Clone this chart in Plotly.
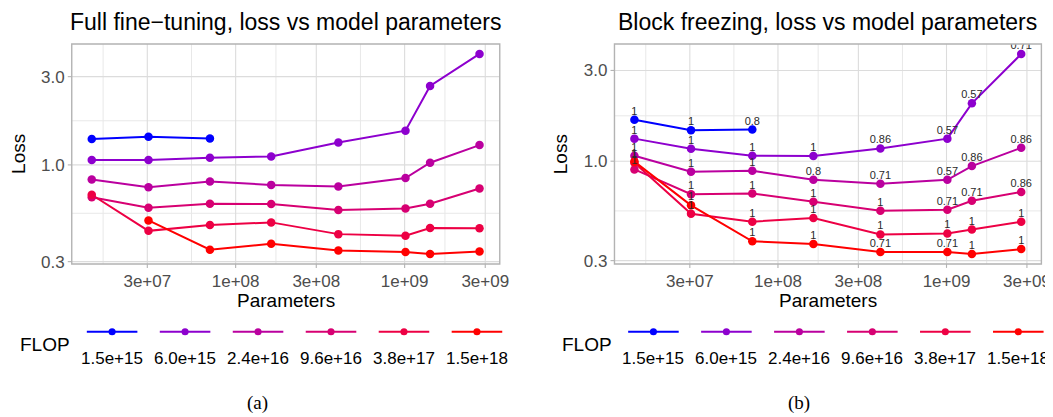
import math
import plotly.graph_objects as go

# ---------------- data ----------------
params = [14.07e6, 30.49e6, 70.43e6, 162.3e6, 405.3e6, 1011.8e6, 1414.6e6, 2775.2e6]
flop_labels = ["1.5e+15", "6.0e+15", "2.4e+16", "9.6e+16", "3.8e+17", "1.5e+18"]

# Full fine-tuning loss per FLOP budget
ft_1_5e15 = [1.38, 1.42, 1.39, None, None, None, None, None]
ft_6_0e15 = [1.063, 1.063, 1.093, 1.11, 1.323, 1.532, 2.67, 3.98]
ft_2_4e16 = [0.833, 0.758, 0.813, 0.78, 0.765, 0.849, 1.028, 1.28]
ft_9_6e16 = [0.668, 0.587, 0.617, 0.615, 0.571, 0.582, 0.617, 0.746]
ft_3_8e17 = [0.69, 0.44, 0.473, 0.489, 0.4225, 0.414, 0.456, 0.455]
ft_1_5e18 = [None, 0.501, 0.348, 0.375, 0.345, 0.338, 0.33, 0.34]

# Block freezing loss per FLOP budget
bf_1_5e15 = [1.652, 1.455, 1.467, None, None, None, None, None]
bf_6_0e15 = [1.314, 1.161, 1.069, 1.065, 1.167, 1.314, 2.014, 3.66]
bf_2_4e16 = [1.069, 0.881, 0.891, 0.798, 0.761, 0.798, 0.942, 1.175]
bf_9_6e16 = [0.905, 0.67, 0.676, 0.612, 0.548, 0.556, 0.619, 0.689]
bf_3_8e17 = [0.982, 0.529, 0.481, 0.502, 0.412, 0.417, 0.437, 0.481]
bf_1_5e18 = [0.995, 0.586, 0.379, 0.367, 0.333, 0.333, 0.325, 0.345]

# Block freezing point labels
bf_lab_1_5e15 = ["1", "1", "0.8", None, None, None, None, None]
bf_lab_6_0e15 = ["1", "1", "1", "1", "0.86", "0.57", "0.57", "0.71"]
bf_lab_2_4e16 = ["1", "1", "1", "0.8", "0.71", "0.57", "0.86", "0.86"]
bf_lab_9_6e16 = ["1", "1", "1", "1", "1", "0.71", "0.71", "0.86"]
bf_lab_3_8e17 = ["1", "1", "1", "1", "1", "1", "1", "1"]
bf_lab_1_5e18 = ["1", "1", "1", "1", "0.71", "0.71", "1", "1"]

x_tickvals = [3e7, 1e8, 3e8, 1e9, 3e9]
x_ticktext = ["3e+07", "1e+08", "3e+08", "1e+09", "3e+09"]
y_tickvals = [0.3, 1.0, 3.0]
y_ticktext = ["0.3", "1.0", "3.0"]
x_minor = [1.643e7, 5.477e7, 1.732e8, 5.477e8, 1.732e9]
y_minor = [0.5477, 1.732]

ft_series = [ft_1_5e15, ft_6_0e15, ft_2_4e16, ft_9_6e16, ft_3_8e17, ft_1_5e18]
bf_series = [bf_1_5e15, bf_6_0e15, bf_2_4e16, bf_9_6e16, bf_3_8e17, bf_1_5e18]
bf_labels = [bf_lab_1_5e15, bf_lab_6_0e15, bf_lab_2_4e16, bf_lab_9_6e16, bf_lab_3_8e17, bf_lab_1_5e18]


# ---------------- colours: Lab gradient blue -> red ----------------
def _lin(c):
    c = c / 255.0
    return c / 12.92 if c <= 0.04045 else ((c + 0.055) / 1.055) ** 2.4


def rgb_to_lab(r, g, b):
    R, G, B = _lin(r), _lin(g), _lin(b)
    X = 0.4124 * R + 0.3576 * G + 0.1805 * B
    Y = 0.2126 * R + 0.7152 * G + 0.0722 * B
    Z = 0.0193 * R + 0.1192 * G + 0.9505 * B
    X, Z = X / 0.95047, Z / 1.08883

    def f(t):
        return t ** (1 / 3) if t > 0.008856 else 7.787 * t + 16 / 116

    fx, fy, fz = f(X), f(Y), f(Z)
    return 116 * fy - 16, 500 * (fx - fy), 200 * (fy - fz)


def lab_to_hex(L, a, b):
    fy = (L + 16) / 116
    fx = fy + a / 500
    fz = fy - b / 200

    def finv(t):
        return t ** 3 if t ** 3 > 0.008856 else (t - 16 / 116) / 7.787

    X, Y, Z = 0.95047 * finv(fx), finv(fy), 1.08883 * finv(fz)
    R = 3.2406 * X - 1.5372 * Y - 0.4986 * Z
    G = -0.9689 * X + 1.8758 * Y + 0.0415 * Z
    B = 0.0557 * X - 0.2040 * Y + 1.0570 * Z

    def g(c):
        c = max(0.0, min(1.0, c))
        c = 12.92 * c if c <= 0.0031308 else 1.055 * c ** (1 / 2.4) - 0.055
        return int(round(c * 255))

    return "#%02X%02X%02X" % (g(R), g(G), g(B))


lab_lo = rgb_to_lab(0, 0, 255)
lab_hi = rgb_to_lab(255, 0, 0)
n = len(flop_labels)
colors = []
for i in range(n):
    t = i / (n - 1)
    colors.append(lab_to_hex(*[lo + (hi - lo) * t for lo, hi in zip(lab_lo, lab_hi)]))

# ---------------- figure ----------------
W, H = 1053, 417


def px(x):
    return x / W


def py(y):
    return 1 - y / H


XR = [7.03, 9.563]
YR1 = [-0.5356, 0.6536]
YR2 = [-0.5406, 0.6162]
GRID = "#DCDCDC"
MINOR = "#E8E8E8"
BORDER = "#B3B3B3"
sans = "Liberation Sans, Arial"
tickfont = dict(family=sans, size=17, color="#4D4D4D")

dom_x1 = [px(64.3), px(496)]
dom_x2 = [px(611.7), px(1042.3)]
dom_y = [py(261), py(36.7)]
PANEL_H = 261 - 36.7
PANEL_W = 496 - 64.3
TICK = 4.0

ax_x = dict(type="log", tickvals=x_tickvals, ticktext=x_ticktext, showgrid=False, showline=False,
            ticks="", ticklabelstandoff=5, tickfont=tickfont, zeroline=False, range=XR)
ax_y = dict(type="log", tickvals=y_tickvals, ticktext=y_ticktext, showgrid=False, showline=False,
            ticks="", ticklabelstandoff=6, tickfont=tickfont, zeroline=False)

fig = go.Figure()
fig.update_layout(
    width=W, height=H, margin=dict(l=0, r=0, t=0, b=0),
    paper_bgcolor="white", plot_bgcolor="white", showlegend=False,
    xaxis=dict(ax_x, domain=dom_x1, anchor="y"),
    yaxis=dict(ax_y, domain=dom_y, anchor="x", range=YR1),
    xaxis2=dict(ax_x, domain=dom_x2, anchor="y2"),
    yaxis2=dict(ax_y, domain=dom_y, anchor="x2", range=YR2),
    font=dict(family=sans, color="black"),
)

for xa, ya, series in (("x", "y", ft_series), ("x2", "y2", bf_series)):
    for vals, col in zip(series, colors):
        fig.add_trace(go.Scatter(x=params, y=vals, mode="lines", xaxis=xa, yaxis=ya,
                                 line=dict(color=col, width=2), showlegend=False, hoverinfo="skip"))
    for vals, col in zip(series, colors):
        fig.add_trace(go.Scatter(x=params, y=vals, mode="markers", xaxis=xa, yaxis=ya,
                                 marker=dict(color=col, size=8.5, line=dict(width=0)),
                                 showlegend=False))

for vals, labs in zip(bf_series, bf_labels):
    fig.add_trace(go.Scatter(x=params, y=vals, text=labs, mode="markers+text", xaxis="x2", yaxis="y2",
                             marker=dict(color="rgba(0,0,0,0)", size=2),
                             textposition="top center",
                             textfont=dict(family=sans, size=11, color="#2A2A2A"),
                             showlegend=False, hoverinfo="skip"))

# panel decorations: grid, border, ticks (drawn as shapes in axis coordinates)
shapes = []
for xr, yr in (("x", "y"), ("x2", "y2")):
    xd, yd = xr + " domain", yr + " domain"
    for v in x_minor:
        shapes.append(dict(type="line", xref=xr, yref=yd, x0=v, x1=v, y0=0, y1=1, layer="below",
                           line=dict(color=MINOR, width=1)))
    for v in y_minor:
        shapes.append(dict(type="line", xref=xd, yref=yr, x0=0, x1=1, y0=v, y1=v, layer="below",
                           line=dict(color=MINOR, width=1)))
    for v in x_tickvals:
        shapes.append(dict(type="line", xref=xr, yref=yd, x0=v, x1=v, y0=0, y1=1, layer="below",
                           line=dict(color=GRID, width=1.1)))
        shapes.append(dict(type="line", xref=xr, yref=yd, x0=v, x1=v, y0=0, y1=-TICK / PANEL_H,
                           line=dict(color=BORDER, width=1.1)))
    for v in y_tickvals:
        shapes.append(dict(type="line", xref=xd, yref=yr, x0=0, x1=1, y0=v, y1=v, layer="below",
                           line=dict(color=GRID, width=1.1)))
        shapes.append(dict(type="line", xref=xd, yref=yr, x0=0, x1=-TICK / PANEL_W, y0=v, y1=v,
                           line=dict(color=BORDER, width=1.1)))
    shapes.append(dict(type="rect", xref=xd, yref=yd, x0=0, x1=1, y0=0, y1=1,
                       line=dict(color=BORDER, width=1.4), fillcolor="rgba(0,0,0,0)"))

ann = []
ann.append(dict(text="Full fine\u2212tuning, loss vs model parameters", x=px(280.2), y=py(14.5),
                font=dict(family=sans, size=23, color="black")))
ann.append(dict(text="Block freezing, loss vs model parameters", x=px(827), y=py(14.5),
                font=dict(family=sans, size=23, color="black")))
for cx in (280.2, 827):
    ann.append(dict(text="Parameters", x=px(cx), y=py(298.7), font=dict(family=sans, size=19, color="black")))
for lx in (11, 558):
    ann.append(dict(text="Loss", x=px(lx), y=py(148.85), textangle=-90,
                    font=dict(family=sans, size=19, color="black")))

for flop_x, key_x0 in ((37, 105), (584, 651)):
    ann.append(dict(text="FLOP", x=px(flop_x), y=py(343), font=dict(family=sans, size=19, color="black")))
    for i, (lab, col) in enumerate(zip(flop_labels, colors)):
        cx = key_x0 + 73.6 * i
        shapes.append(dict(type="line", xref="paper", yref="paper", x0=px(cx - 25.5), x1=px(cx + 25.5),
                           y0=py(330), y1=py(330), line=dict(color=col, width=2)))
        shapes.append(dict(type="circle", xref="paper", yref="paper", x0=px(cx - 3.6), x1=px(cx + 3.6),
                           y0=py(333.6), y1=py(326.4), fillcolor=col, line=dict(width=0)))
        ann.append(dict(text=lab, x=px(cx), y=py(357.5), font=dict(family=sans, size=17, color="black")))

ann.append(dict(text="(a)", x=px(252), y=py(403), font=dict(family="Liberation Serif, Times New Roman", size=19, color="black")))
ann.append(dict(text="(b)", x=px(798), y=py(403), font=dict(family="Liberation Serif, Times New Roman", size=19, color="black")))

for a in ann:
    a.update(xref="paper", yref="paper", showarrow=False, xanchor="center", yanchor="middle")

fig.update_layout(annotations=ann, shapes=shapes)
fig.write_html("out.html")
